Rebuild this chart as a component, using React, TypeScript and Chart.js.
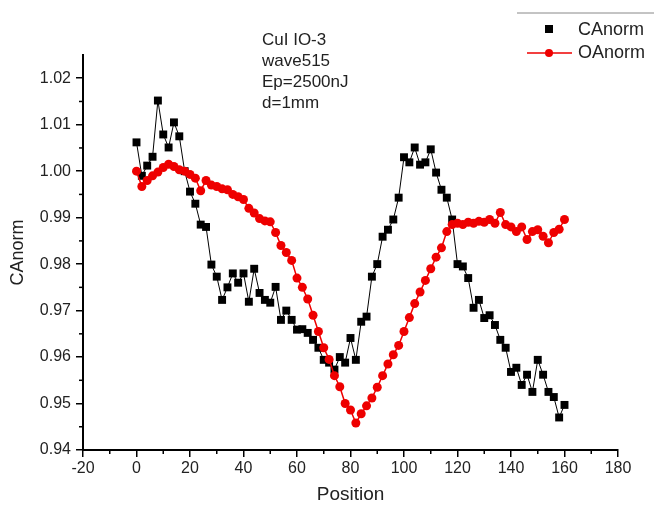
import React, { useEffect, useRef } from 'react';
import { Chart, registerables } from 'chart.js';

Chart.register(...registerables);

const positions = [
  0, 2, 4, 6, 8, 10, 12, 14, 16, 18, 20, 22, 24, 26, 28, 30, 32, 34, 36, 38,
  40, 42, 44, 46, 48, 50, 52, 54, 56, 58, 60, 62, 64, 66, 68, 70, 72, 74, 76, 78,
  80, 82, 84, 86, 88, 90, 92, 94, 96, 98, 100, 102, 104, 106, 108, 110, 112, 114, 116, 118,
  120, 122, 124, 126, 128, 130, 132, 134, 136, 138, 140, 142, 144, 146, 148, 150, 152, 154, 156, 158, 160,
];

const caNorm = [
  1.0062, 0.999, 1.0012, 1.0031, 1.0152, 1.0079, 1.0051, 1.0105, 1.0075, 1.0, 0.9956, 0.993, 0.9885, 0.988, 0.9799, 0.9773, 0.9723, 0.975, 0.978, 0.976,
  0.978, 0.9719, 0.979, 0.9738, 0.9723, 0.9717, 0.9751, 0.968, 0.97, 0.968, 0.9659, 0.966, 0.9652, 0.9637, 0.962, 0.9594, 0.9588, 0.9573, 0.96, 0.9588,
  0.9641, 0.9594, 0.9676, 0.9687, 0.9773, 0.98, 0.9859, 0.9874, 0.9896, 0.9943, 1.003, 1.0019, 1.0051, 1.0014, 1.0019, 1.0047, 0.9997, 0.996, 0.9943, 0.9896,
  0.98, 0.9795, 0.977, 0.9706, 0.9723, 0.9684, 0.969, 0.9669, 0.9637, 0.962, 0.9568, 0.9577, 0.954, 0.9562, 0.9525, 0.9594, 0.9562, 0.9525, 0.9514, 0.947, 0.9497,
];

const oaNorm = [
  1.0, 0.9967, 0.998, 0.999, 0.9998, 1.0008, 1.0015, 1.001, 1.0003, 1.0, 0.9993, 0.9985, 0.9958, 0.998, 0.997, 0.9967, 0.9962, 0.996, 0.995, 0.9945,
  0.9939, 0.992, 0.991, 0.9898, 0.9893, 0.9891, 0.9868, 0.984, 0.9825, 0.9808, 0.977, 0.975, 0.9725, 0.969, 0.9655, 0.962, 0.9595, 0.956, 0.9536, 0.95,
  0.9486, 0.9458, 0.9478, 0.9495, 0.9512, 0.9535, 0.956, 0.9585, 0.9605, 0.9625, 0.9655, 0.9685, 0.9715, 0.974, 0.9765, 0.979, 0.9815, 0.9835, 0.987, 0.9885,
  0.9888, 0.9885, 0.989, 0.9888, 0.9892, 0.989, 0.9896, 0.9888, 0.9911, 0.9885, 0.988, 0.987, 0.988, 0.9853, 0.987, 0.9874, 0.986, 0.9846, 0.9868, 0.9875, 0.9896,
];

const xTickValues = [-20, 0, 20, 40, 60, 80, 100, 120, 140, 160, 180];
const yTickValues = [0.94, 0.95, 0.96, 0.97, 0.98, 0.99, 1.0, 1.01, 1.02];
const annotationLines = ['CuI IO-3', 'wave515', 'Ep=2500nJ', 'd=1mm'];
const seriesNames = ['CAnorm', 'OAnorm'];

const FONT = "'Liberation Sans', Arial, sans-serif";

const extrasPlugin = {
  id: 'extras',
  afterDraw(chart: any) {
    const ctx = chart.ctx;
    const xs = chart.scales.x;
    const ys = chart.scales.y;
    const area = chart.chartArea;
    ctx.save();
    // minor ticks
    ctx.strokeStyle = '#000';
    ctx.lineWidth = 1.5;
    for (let i = 0; i < xTickValues.length - 1; i++) {
      const v = (xTickValues[i] + xTickValues[i + 1]) / 2;
      const px = xs.getPixelForValue(v);
      ctx.beginPath();
      ctx.moveTo(px, area.bottom);
      ctx.lineTo(px, area.bottom + 4);
      ctx.stroke();
    }
    const yMinor = yTickValues.slice(0, -1).map((v, i) => (v + yTickValues[i + 1]) / 2);
    for (const v of yMinor) {
      const py = ys.getPixelForValue(v);
      ctx.beginPath();
      ctx.moveTo(area.left, py);
      ctx.lineTo(area.left - 4, py);
      ctx.stroke();
    }
    // annotation text
    ctx.fillStyle = '#222';
    ctx.font = `17px ${FONT}`;
    ctx.textBaseline = 'middle';
    ctx.textAlign = 'left';
    annotationLines.forEach((t, i) => {
      ctx.fillText(t, 262, 40 + i * 21);
    });
    // legend
    ctx.strokeStyle = '#888';
    ctx.lineWidth = 1;
    ctx.beginPath();
    ctx.moveTo(517, 13);
    ctx.lineTo(654, 13);
    ctx.stroke();
    ctx.fillStyle = '#000';
    ctx.fillRect(545, 25, 8, 8);
    ctx.strokeStyle = '#ee0000';
    ctx.lineWidth = 1.5;
    ctx.beginPath();
    ctx.moveTo(527, 53);
    ctx.lineTo(572, 53);
    ctx.stroke();
    ctx.fillStyle = '#ee0000';
    ctx.beginPath();
    ctx.arc(549, 53, 4, 0, Math.PI * 2);
    ctx.fill();
    ctx.fillStyle = '#222';
    ctx.font = `18px ${FONT}`;
    ctx.fillText(seriesNames[0], 578, 30);
    ctx.fillText(seriesNames[1], 578, 53);
    ctx.restore();
  },
};

export default function App() {
  const ref = useRef<HTMLCanvasElement | null>(null);
  useEffect(() => {
    if (!ref.current) return;
    const chart = new Chart(ref.current, {
      type: 'line',
      data: {
        datasets: [
          {
            label: seriesNames[1],
            data: positions.map((x, i) => ({ x, y: oaNorm[i] })),
            borderColor: '#ee0000',
            backgroundColor: '#ee0000',
            borderWidth: 1.5,
            pointStyle: 'circle',
            pointRadius: 4.5,
            pointBorderWidth: 0,
            order: 0,
          },
          {
            label: seriesNames[0],
            data: positions.map((x, i) => ({ x, y: caNorm[i] })),
            borderColor: '#000',
            backgroundColor: '#000',
            borderWidth: 1,
            pointStyle: 'rect',
            pointRadius: 5.6,
            pointBorderWidth: 0,
            order: 1,
          },
        ],
      },
      options: {
        animation: false,
        responsive: false,
        devicePixelRatio: 1,
        layout: { padding: { top: 55, right: 36, left: 0, bottom: 0 } },
        plugins: { legend: { display: false }, tooltip: { enabled: false } },
        scales: {
          x: {
            type: 'linear',
            min: -20,
            max: 180,
            afterBuildTicks: (s: any) => {
              s.ticks = xTickValues.map((v) => ({ value: v }));
            },
            afterFit: (s: any) => {
              s.height = 56;
            },
            ticks: {
              font: { family: FONT, size: 16 },
              color: '#222',
              padding: 2,
              maxRotation: 0,
              autoSkip: false,
              callback: (v: any) => String(v),
            },
            grid: { drawOnChartArea: false, drawTicks: true, tickLength: 7, color: '#000', lineWidth: 1.5 },
            border: { display: true, color: '#000', width: 2 },
            title: {
              display: true,
              text: 'Position',
              font: { family: FONT, size: 19 },
              color: '#222',
              padding: { top: 0, bottom: 0 },
            },
          },
          y: {
            type: 'linear',
            min: 0.94,
            max: 1.025,
            afterBuildTicks: (s: any) => {
              s.ticks = yTickValues.map((v) => ({ value: v }));
            },
            afterFit: (s: any) => {
              s.width = 83;
            },
            ticks: {
              font: { family: FONT, size: 16 },
              color: '#222',
              padding: 5,
              autoSkip: false,
              callback: (v: any) => Number(v).toFixed(2),
            },
            grid: { drawOnChartArea: false, drawTicks: true, tickLength: 7, color: '#000', lineWidth: 1.5 },
            border: { display: true, color: '#000', width: 2 },
            title: {
              display: true,
              text: 'CAnorm',
              font: { family: FONT, size: 18 },
              color: '#222',
              padding: { top: 7, bottom: 0 },
            },
          },
        },
      },
      plugins: [extrasPlugin],
    });
    return () => chart.destroy();
  }, []);
  return (
    <div style={{ position: 'absolute', left: 0, top: 0, width: 654, height: 506, background: '#fff' }}>
      <canvas ref={ref} width={654} height={506} style={{ width: 654, height: 506, display: 'block' }} />
    </div>
  );
}
